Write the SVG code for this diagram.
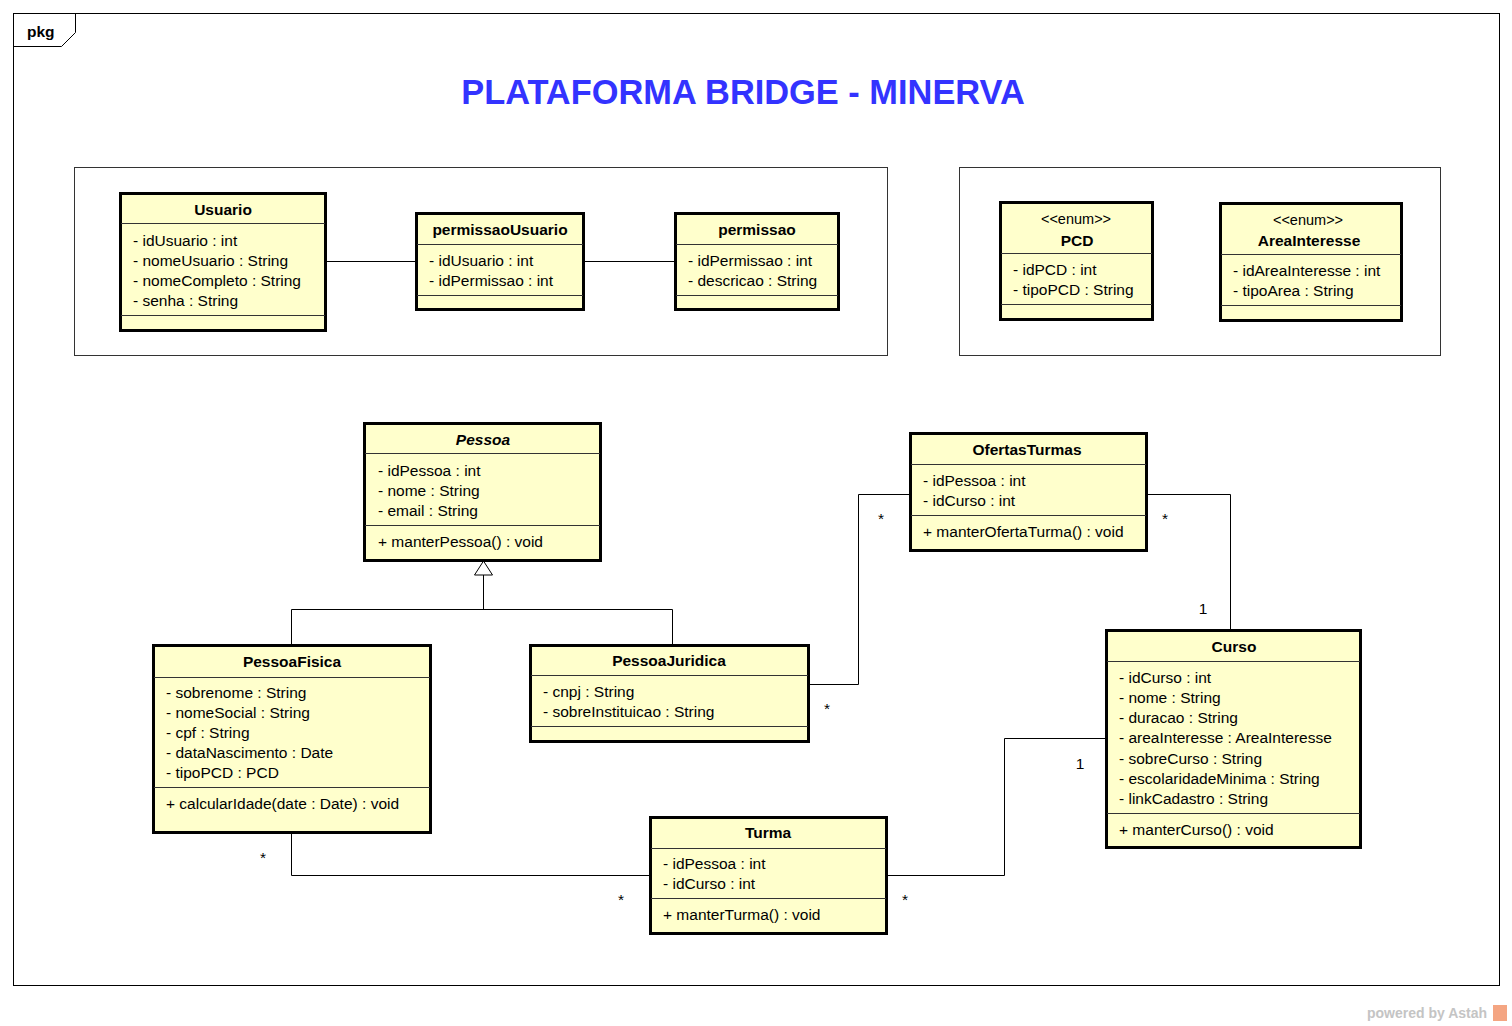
<svg xmlns="http://www.w3.org/2000/svg" width="1512" height="1026" viewBox="0 0 1512 1026">
<style>
.bg{fill:#ffffff}
.frame{fill:none;stroke:#000;stroke-width:1}
.grp{fill:none;stroke:#333;stroke-width:1}
.cls{fill:#ffffcc;stroke:#000;stroke-width:3}
.sep{stroke:#333;stroke-width:1}
.ln{fill:none;stroke:#000;stroke-width:1}
text{font-family:"Liberation Sans",Arial,sans-serif;font-size:15.5px;fill:#000}
.b{font-weight:bold}
.c{text-anchor:middle}
.st{font-size:14.5px}
.title{font-size:34.4px;font-weight:bold;fill:#3333ff;text-anchor:middle}
.pw{font-size:14px;font-weight:bold;fill:#c4c4c4}
</style>
<rect class="bg" x="0" y="0" width="1512" height="1026"/>
<g id="frame">
<rect class="frame" x="13.5" y="13.5" width="1486" height="972"/>
<path class="frame" d="M13.5 46.5 H61.5 L75.5 32.5 V13.5"/>
<text class="b" x="27" y="37">pkg</text>
</g>
<text class="title" x="743" y="104">PLATAFORMA BRIDGE - MINERVA</text>
<rect class="grp" x="74.5" y="167.5" width="813" height="188"/>
<rect class="grp" x="959.5" y="167.5" width="481" height="188"/>

<g id="connectors">
<line class="ln" x1="325" y1="261.5" x2="416" y2="261.5"/>
<line class="ln" x1="583" y1="261.5" x2="675" y2="261.5"/>
<polyline class="ln" points="483.5,575 483.5,609.5"/>
<polyline class="ln" points="291.5,645 291.5,609.5 672.5,609.5 672.5,645"/>
<polygon points="483.5,561 474.5,575 492.5,575" fill="#fff" stroke="#000" stroke-width="1"/>
<polyline class="ln" points="910,494.5 858.5,494.5 858.5,684.5 808,684.5"/>
<polyline class="ln" points="1146,494.5 1230.5,494.5 1230.5,630"/>
<polyline class="ln" points="291.5,832 291.5,875.5 650,875.5"/>
<polyline class="ln" points="886,875.5 1004.5,875.5 1004.5,738.5 1106,738.5"/>
<text class="c" x="881" y="524">*</text>
<text class="c" x="827" y="714">*</text>
<text class="c" x="1165" y="524">*</text>
<text class="c" x="1203" y="614">1</text>
<text class="c" x="263" y="863">*</text>
<text class="c" x="621" y="905">*</text>
<text class="c" x="905" y="905">*</text>
<text class="c" x="1080" y="769">1</text>
</g>

<g id="Usuario">
<rect class="cls" x="120.5" y="193.5" width="205" height="137"/>
<line class="sep" x1="121" y1="223.5" x2="325" y2="223.5"/>
<line class="sep" x1="121" y1="315.5" x2="325" y2="315.5"/>
<text class="b c" x="223" y="215">Usuario</text>
<text x="133" y="246">- idUsuario : int</text>
<text x="133" y="266">- nomeUsuario : String</text>
<text x="133" y="286">- nomeCompleto : String</text>
<text x="133" y="306">- senha : String</text>
</g>

<g id="permissaoUsuario">
<rect class="cls" x="416.5" y="213.5" width="167" height="96"/>
<line class="sep" x1="417" y1="244.5" x2="583" y2="244.5"/>
<line class="sep" x1="417" y1="295.5" x2="583" y2="295.5"/>
<text class="b c" x="500" y="235">permissaoUsuario</text>
<text x="429" y="266">- idUsuario : int</text>
<text x="429" y="286">- idPermissao : int</text>
</g>

<g id="permissao">
<rect class="cls" x="675.5" y="213.5" width="163" height="96"/>
<line class="sep" x1="676" y1="244.5" x2="838" y2="244.5"/>
<line class="sep" x1="676" y1="295.5" x2="838" y2="295.5"/>
<text class="b c" x="757" y="235">permissao</text>
<text x="688" y="266">- idPermissao : int</text>
<text x="688" y="286">- descricao : String</text>
</g>

<g id="PCD">
<rect class="cls" x="1000.5" y="202.5" width="152" height="117"/>
<line class="sep" x1="1001" y1="253.5" x2="1152" y2="253.5"/>
<line class="sep" x1="1001" y1="304.5" x2="1152" y2="304.5"/>
<text class="st c" x="1076" y="224">&lt;&lt;enum&gt;&gt;</text>
<text class="b c" x="1077" y="246">PCD</text>
<text x="1013" y="275">- idPCD : int</text>
<text x="1013" y="295">- tipoPCD : String</text>
</g>

<g id="AreaInteresse">
<rect class="cls" x="1220.5" y="203.5" width="181" height="117"/>
<line class="sep" x1="1221" y1="254.5" x2="1401" y2="254.5"/>
<line class="sep" x1="1221" y1="305.5" x2="1401" y2="305.5"/>
<text class="st c" x="1308" y="225">&lt;&lt;enum&gt;&gt;</text>
<text class="b c" x="1309" y="246">AreaInteresse</text>
<text x="1233" y="276">- idAreaInteresse : int</text>
<text x="1233" y="296">- tipoArea : String</text>
</g>

<g id="Pessoa">
<rect class="cls" x="364.5" y="423.5" width="236" height="137"/>
<line class="sep" x1="365" y1="453.5" x2="600" y2="453.5"/>
<line class="sep" x1="365" y1="525.5" x2="600" y2="525.5"/>
<text class="b c" x="483" y="445" font-style="italic">Pessoa</text>
<text x="378" y="476">- idPessoa : int</text>
<text x="378" y="496">- nome : String</text>
<text x="378" y="516">- email : String</text>
<text x="378" y="547">+ manterPessoa() : void</text>
</g>

<g id="OfertasTurmas">
<rect class="cls" x="910.5" y="433.5" width="236" height="117"/>
<line class="sep" x1="911" y1="464.5" x2="1146" y2="464.5"/>
<line class="sep" x1="911" y1="515.5" x2="1146" y2="515.5"/>
<text class="b c" x="1027" y="455">OfertasTurmas</text>
<text x="923" y="486">- idPessoa : int</text>
<text x="923" y="506">- idCurso : int</text>
<text x="923" y="537">+ manterOfertaTurma() : void</text>
</g>

<g id="PessoaFisica">
<rect class="cls" x="153.5" y="645.5" width="277" height="187"/>
<line class="sep" x1="154" y1="677.5" x2="430" y2="677.5"/>
<line class="sep" x1="154" y1="787.5" x2="430" y2="787.5"/>
<text class="b c" x="292" y="667">PessoaFisica</text>
<text x="166" y="698">- sobrenome : String</text>
<text x="166" y="718">- nomeSocial : String</text>
<text x="166" y="738">- cpf : String</text>
<text x="166" y="758">- dataNascimento : Date</text>
<text x="166" y="778">- tipoPCD : PCD</text>
<text x="166" y="809">+ calcularIdade(date : Date) : void</text>
</g>

<g id="PessoaJuridica">
<rect class="cls" x="530.5" y="645.5" width="278" height="96"/>
<line class="sep" x1="531" y1="675.5" x2="808" y2="675.5"/>
<line class="sep" x1="531" y1="726.5" x2="808" y2="726.5"/>
<text class="b c" x="669" y="666">PessoaJuridica</text>
<text x="543" y="697">- cnpj : String</text>
<text x="543" y="717">- sobreInstituicao : String</text>
</g>

<g id="Turma">
<rect class="cls" x="650.5" y="817.5" width="236" height="116"/>
<line class="sep" x1="651" y1="848.5" x2="886" y2="848.5"/>
<line class="sep" x1="651" y1="898.5" x2="886" y2="898.5"/>
<text class="b c" x="768" y="838">Turma</text>
<text x="663" y="869">- idPessoa : int</text>
<text x="663" y="889">- idCurso : int</text>
<text x="663" y="920">+ manterTurma() : void</text>
</g>

<g id="Curso">
<rect class="cls" x="1106.5" y="630.5" width="254" height="217"/>
<line class="sep" x1="1107" y1="661.5" x2="1360" y2="661.5"/>
<line class="sep" x1="1107" y1="813.5" x2="1360" y2="813.5"/>
<text class="b c" x="1234" y="652">Curso</text>
<text x="1119" y="683">- idCurso : int</text>
<text x="1119" y="703">- nome : String</text>
<text x="1119" y="723">- duracao : String</text>
<text x="1119" y="743">- areaInteresse : AreaInteresse</text>
<text x="1119" y="764">- sobreCurso : String</text>
<text x="1119" y="784">- escolaridadeMinima : String</text>
<text x="1119" y="804">- linkCadastro : String</text>
<text x="1119" y="835">+ manterCurso() : void</text>
</g>

<g id="powered">
<text class="pw" x="1367" y="1018">powered by Astah</text>
<rect x="1493" y="1005" width="14" height="16" fill="#f4a582"/>
</g>
</svg>
